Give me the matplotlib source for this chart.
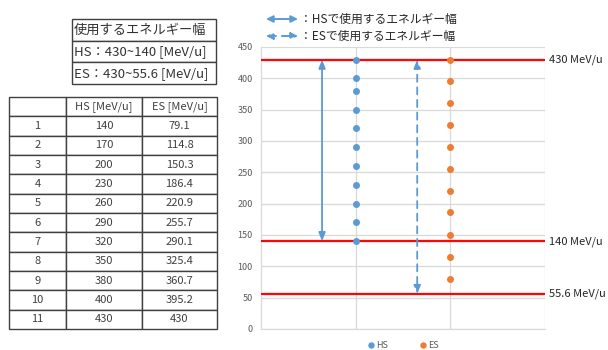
import matplotlib
matplotlib.use("Agg")
import matplotlib.pyplot as plt

plt.rcParams['font.family'] = ['Noto Sans CJK JP', 'DejaVu Sans']

# Energy steps
step_no = [1, 2, 3, 4, 5, 6, 7, 8, 9, 10, 11]
hs_energy = [140, 170, 200, 230, 260, 290, 320, 350, 380, 400, 430]
es_energy = [79.1, 114.8, 150.3, 186.4, 220.9, 255.7, 290.1, 325.4, 360.7, 395.2, 430]
es_labels = ["79.1", "114.8", "150.3", "186.4", "220.9", "255.7", "290.1",
             "325.4", "360.7", "395.2", "430"]

# Energy ranges
hs_range = (430, 140)
es_range = (430, 55.6)
ref_levels = [430, 140, 55.6]
ref_labels = ["430 MeV/u", "140 MeV/u", "55.6 MeV/u"]

summary_rows = ["使用するエネルギー幅", "HS：430~140 [MeV/u]", "ES：430~55.6 [MeV/u]"]
table_header = ["", "HS [MeV/u]", "ES [MeV/u]"]

BLUE = "#5B9BD5"
ORANGE = "#ED7D31"
RED = "#FF0000"
GRID = "#D9D9D9"

W, H = 608, 350
fig = plt.figure(figsize=(W / 100, H / 100), dpi=100)


def px_axes(left, top, right, bottom):
    return fig.add_axes([left / W, 1 - bottom / H, (right - left) / W, (bottom - top) / H])


# ---- summary table ----
ax_s = px_axes(72, 19, 216, 84)
ax_s.axis("off")
t1 = ax_s.table(cellText=[[r] for r in summary_rows], cellLoc="left", bbox=[0, 0, 1, 1])
t1.auto_set_font_size(False)
for (r, c), cell in t1.get_celld().items():
    cell.set_edgecolor("#404040")
    cell.set_linewidth(1.0)
    cell.get_text().set_fontsize(9.5)
    cell.get_text().set_color("#333333")
    cell.PAD = 0.015

# ---- values table ----
ax_t = px_axes(9, 97, 217, 329)
ax_t.axis("off")
rows = [table_header] + [[str(n), str(h), e] for n, h, e in zip(step_no, hs_energy, es_labels)]
t2 = ax_t.table(cellText=rows, cellLoc="center", bbox=[0, 0, 1, 1],
                colWidths=[57, 76, 75])
t2.auto_set_font_size(False)
for (r, c), cell in t2.get_celld().items():
    cell.set_edgecolor("#404040")
    cell.set_linewidth(1.0)
    cell.get_text().set_fontsize(8)
    cell.get_text().set_color("#404040")

# ---- scatter chart ----
ax = px_axes(261, 47, 545, 329)
ax.set_xlim(0, 3)
ax.set_ylim(0, 450)
ax.set_yticks(range(0, 451, 50))
ax.set_xticks([1, 2, 3])
ax.tick_params(axis="x", length=0, labelbottom=False)
ax.tick_params(axis="y", length=0, labelsize=6.5, colors="#595959", pad=6)
ax.grid(True, color=GRID, linewidth=0.9)
ax.set_axisbelow(True)
for side in ["top", "right"]:
    ax.spines[side].set_visible(False)
for side in ["left", "bottom"]:
    ax.spines[side].set_color(GRID)
    ax.spines[side].set_linewidth(0.9)

ax.plot([1] * len(hs_energy), hs_energy, "o", color=BLUE, markersize=4, label="HS", zorder=4)
ax.plot([2] * len(es_energy), es_energy, "o", color=ORANGE, markersize=4, label="ES", zorder=4)

for lvl, lab in zip(ref_levels, ref_labels):
    ax.axhline(lvl, color=RED, linewidth=3, alpha=0.12, zorder=2)
    ax.axhline(lvl, color=RED, linewidth=1.4, zorder=3)
    ax.annotate(lab, xy=(1.015, lvl), xycoords=("axes fraction", "data"),
                va="center", ha="left", fontsize=8, color="#262626",
                annotation_clip=False)

ax.annotate("", xy=(0.645, hs_range[1]), xytext=(0.645, hs_range[0]),
            arrowprops=dict(arrowstyle="<|-|>,head_length=0.5,head_width=0.2",
                            color=BLUE, lw=1.3, shrinkA=0, shrinkB=0))
ax.annotate("", xy=(1.65, es_range[1]), xytext=(1.65, es_range[0]),
            arrowprops=dict(arrowstyle="<|-|>,head_length=0.5,head_width=0.2",
                            color=BLUE, lw=1.3, linestyle=(0, (4, 3)),
                            shrinkA=0, shrinkB=0))

ax.legend(loc="upper center", bbox_to_anchor=(0.5, -0.015), ncol=2, frameon=False,
          fontsize=6.5, handlelength=0.8, handletextpad=0.2, columnspacing=3.5,
          markerscale=0.9, labelcolor="#595959")

# ---- arrow key above the chart ----
key_items = [("solid", "：HSで使用するエネルギー幅", 19),
             ((0, (4, 3)), "：ESで使用するエネルギー幅", 36)]
for ls, txt, ypx in key_items:
    y = 1 - ypx / H
    fig.add_artist(matplotlib.patches.FancyArrowPatch(
        (266 / W, y), (298 / W, y), transform=fig.transFigure,
        arrowstyle="<|-|>,head_length=4,head_width=2", color=BLUE,
        lw=1.4, linestyle=ls, shrinkA=0, shrinkB=0))
    fig.text(300 / W, y, txt, fontsize=8.5, va="center", ha="left", color="#262626")

fig.savefig("out.png", dpi=100)
